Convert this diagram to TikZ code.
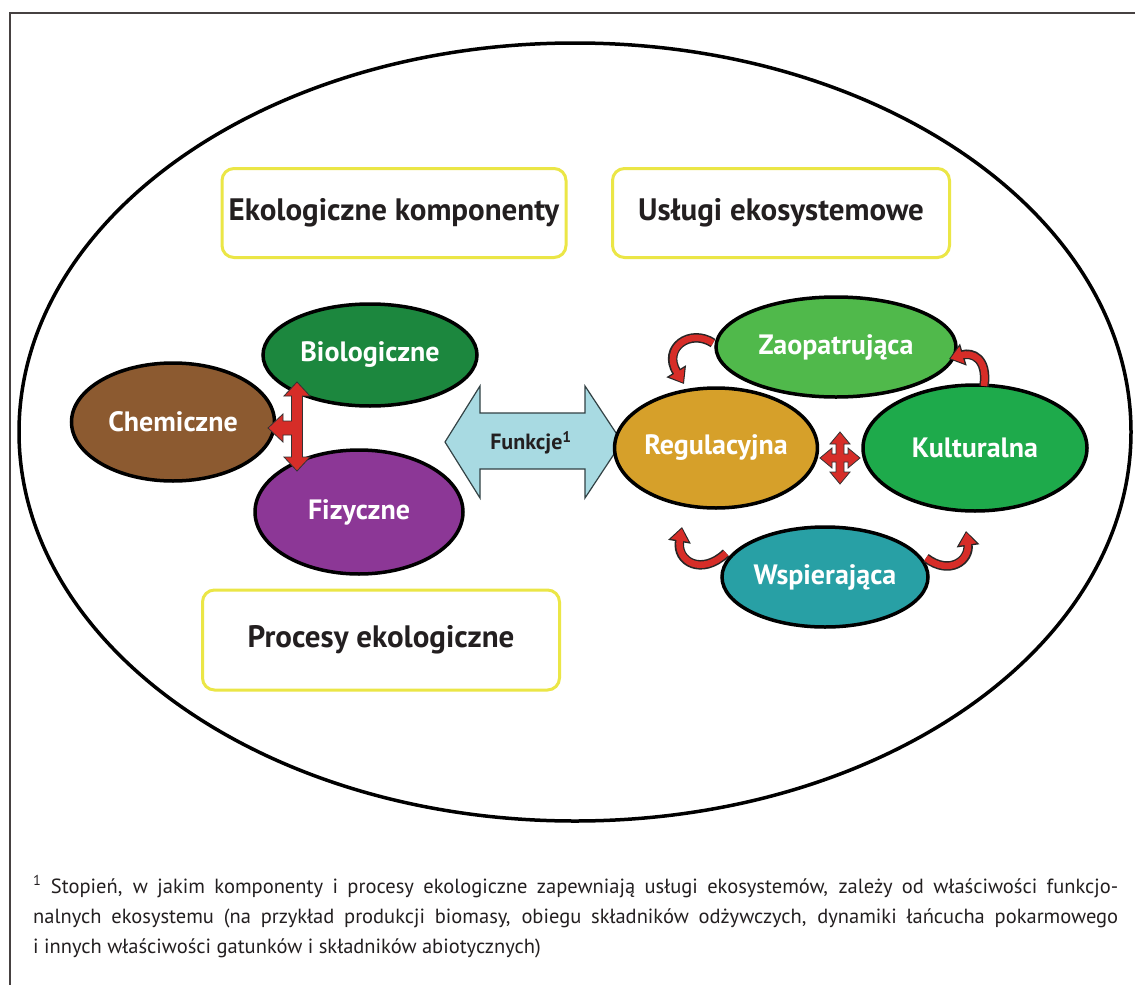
\documentclass[tikz,border=0pt]{standalone}
\usepackage{fontspec}
\setmainfont{PT Sans}
\usetikzlibrary{shapes.geometric,arrows.meta}
\definecolor{cbrown}{RGB}{140,90,48}
\definecolor{cbio}{RGB}{28,135,62}
\definecolor{cpurple}{RGB}{140,55,150}
\definecolor{cgold}{RGB}{214,160,42}
\definecolor{czao}{RGB}{80,185,75}
\definecolor{ckult}{RGB}{30,170,75}
\definecolor{cteal}{RGB}{40,160,165}
\definecolor{cblue}{RGB}{168,218,226}
\definecolor{cyell}{RGB}{235,230,70}
\definecolor{cred}{RGB}{214,45,40}
\definecolor{cframe}{RGB}{70,65,65}
\definecolor{ctext}{RGB}{35,31,32}
\tikzset{
  ybox/.style={draw=cyell, line width=3pt, rounded corners=12pt, fill=white, font=\fontsize{31}{36}\selectfont\bfseries, text=ctext},
  ell/.style={ellipse, draw=black, line width=3.5pt, font=\fontsize{28}{32}\selectfont\bfseries, text=white, inner sep=0pt},
  redarr/.style={fill=cred, draw=black!80, line width=0.8pt, line join=miter},
}
\newcommand{\redcurve}[1]{%
  \draw[black!85, line width=9.5pt, -{Triangle[length=15pt,width=22pt]}] #1;
  \draw[cred, line width=6.5pt, -{Triangle[length=12pt,width=17pt]}, shorten >=1.6pt] #1;}
\begin{document}
\begin{tikzpicture}[x=1pt,y=-1pt]
\useasboundingbox (0,0) rectangle (1135,985);
\fill[white] (0,0) rectangle (1135,985);
% frame
\draw[cframe, line width=2pt] (1135,13) -- (10,13) -- (10,985);
% big ellipse
\node[ellipse, draw=black, line width=3.5pt, minimum width=1112pt, minimum height=778pt, inner sep=0pt] (big) at (575,432) {};
% yellow boxes
\node[ybox, minimum width=344pt, minimum height=89pt] (ek) at (394,213) {Ekologiczne komponenty};
\node[ybox, minimum width=337pt, minimum height=89pt] (us) at (781,213) {Usługi ekosystemowe};
\node[ybox, minimum width=357pt, minimum height=100pt] (pe) at (381,640) {Procesy ekologiczne};
% left ellipses
\node[ell, fill=cbrown, minimum width=203pt, minimum height=118pt] (chem) at (173,422) {Chemiczne};
\node[ell, fill=cbio, minimum width=214pt, minimum height=102pt] (bio) at (370,355) {Biologiczne};
\node[ell, fill=cpurple, minimum width=208pt, minimum height=124pt] (fiz) at (359,512) {Fizyczne};
% T-shaped red arrow
\draw[redarr] (297,382) -- (310,396) -- (302.5,396) -- (302.5,457) -- (310,457) -- (297,471) -- (284,457) -- (291.5,457) -- (291.5,435) -- (283,435) -- (283,442) -- (268,428) -- (283,414) -- (283,421) -- (291.5,421) -- (291.5,396) -- (284,396) -- cycle;
% Funkcje double arrow
\draw[fill=cblue, draw=black!70!cblue, line width=1.2pt, line join=miter] (445,442) -- (480,386) -- (480,413) -- (585,413) -- (585,386) -- (622,442) -- (585,498) -- (585,469) -- (480,469) -- (480,498) -- cycle;
\node[font=\fontsize{22}{26}\selectfont\bfseries, text=ctext] (fun) at (531,443) {Funkcje\textsuperscript{1}};
% right ellipses
\node[ell, fill=czao, minimum width=240pt, minimum height=100pt] (zao) at (836,347) {Zaopatrująca};
\node[ell, fill=cgold, minimum width=198pt, minimum height=120pt] (reg) at (716,448) {Regulacyjna};
\node[ell, fill=ckult, minimum width=224pt, minimum height=126pt] (kul) at (975,448) {Kulturalna};
\node[ell, fill=cteal, minimum width=206pt, minimum height=100pt] (wsp) at (825,577) {Wspierająca};
% cross arrow
\begin{scope}[shift={(840,458)}]
\draw[redarr] (0,-26) -- (10,-14) -- (4,-14) -- (4,-4) -- (8,-4) -- (8,-10) -- (20,0) -- (8,10) -- (8,4) -- (4,4) -- (4,14) -- (10,14) -- (0,26) -- (-10,14) -- (-4,14) -- (-4,4) -- (-8,4) -- (-8,10) -- (-20,0) -- (-8,-10) -- (-8,-4) -- (-4,-4) -- (-4,-14) -- (-10,-14) -- cycle;
\end{scope}
% curved arrows
\coordinate (a1s) at (713,343); \coordinate (a1e) at (684,384);
\coordinate (a2s) at (984,386); \coordinate (a2e) at (949,359);
\coordinate (a3s) at (726,553); \coordinate (a3e) at (682,527);
\coordinate (a4s) at (926,558); \coordinate (a4e) at (966,531);
\redcurve{(a1s) .. controls (690,328) and (662,348) .. (a1e)}
\redcurve{(a2s) .. controls (988,358) and (972,352) .. (a2e)}
\redcurve{(a3s) .. controls (702,576) and (676,562) .. (a3e)}
\redcurve{(a4s) .. controls (950,576) and (970,560) .. (a4e)}
% footnote
\begin{scope}[every node/.style={anchor=base west, inner sep=0pt, font=\fontsize{20.5}{24}\selectfont, text=ctext}]
\node (fn1) at (33,893) {\makebox[1085pt][s]{\textsuperscript{1} Stopień, w jakim komponenty i procesy ekologiczne zapewniają usługi ekosystemów, zależy od właściwości funkcjo-}};
\node (fn2) at (33,923) {\makebox[1085pt][s]{nalnych ekosystemu (na przykład produkcji biomasy, obiegu składników odżywczych, dynamiki łańcucha pokarmowego}};
\node (fn3) at (33,953) {i innych właściwości gatunków i składników abiotycznych)};
\end{scope}
\end{tikzpicture}
\end{document}
